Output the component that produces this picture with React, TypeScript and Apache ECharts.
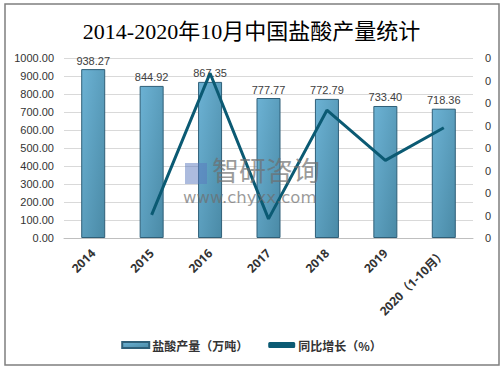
import React, { useEffect, useRef } from "react";
import * as echarts from "echarts";

const categories = ["2014", "2015", "2016", "2017", "2018", "2019", "2020（1-10月）"];
const production = [938.27, 844.92, 867.35, 777.77, 772.79, 733.4, 718.36];
const growth = [null, -0.0995, 0.0265, -0.103, -0.0064, -0.051, -0.022];
const leftTicks = { min: 0, max: 1000, interval: 100 };
const rightTicks = { min: -0.12, max: 0.04, interval: 0.02 };

export default function App() {
  const ref = useRef<HTMLDivElement>(null);
  useEffect(() => {
    const chart = echarts.init(ref.current!, null, { renderer: "svg" });
    const barGrad = new echarts.graphic.LinearGradient(0, 0, 1, 1, [
      { offset: 0, color: "#6cb2d4" },
      { offset: 1, color: "#4a8aa6" },
    ]);
    chart.setOption({
      animation: false,
      backgroundColor: "#fff",
      title: {
        text: "2014-2020年10月中国盐酸产量统计",
        left: "center",
        top: 15,
        textStyle: {
          fontFamily: "'Liberation Serif', 'Noto Sans CJK SC', serif",
          fontSize: 22,
          fontWeight: "normal",
          color: "#000",
        },
      },
      graphic: [
        {
          type: "rect",
          shape: { x: 5, y: 4, width: 494, height: 361 },
          style: { fill: "none", stroke: "#7f7f7f", lineWidth: 1.5 },
          silent: true,
          z: 100,
        },
        {
          type: "text",
          left: 212,
          top: 156,
          style: {
            text: "智研咨询",
            fontFamily: "'Noto Sans CJK SC'",
            fontSize: 27,
            fill: "rgba(110,110,110,0.7)",
          },
          z: 50,
        },
        {
          type: "rect",
          shape: { x: 185, y: 163, width: 22, height: 21 },
          style: { fill: "rgba(90,120,190,0.5)" },
          z: 50,
        },
        {
          type: "text",
          left: 183,
          top: 189,
          style: {
            text: "www.chyxx.com",
            fontFamily: "'DejaVu Sans'",
            fontSize: 16.5,
            fill: "rgba(110,110,110,0.7)",
          },
          z: 50,
        },
      ],
      legend: {
        bottom: 14,
        left: "center",
        itemGap: 20,
        itemWidth: 27,
        itemHeight: 6,
        textStyle: { fontSize: 12, color: "#333", fontWeight: "bold", fontFamily: "'Noto Sans CJK SC'", padding: [0, 0, 0, -2] },
        data: [
          { name: "盐酸产量（万吨）", icon: "rect" },
          { name: "同比增长（%）", icon: "roundRect", itemStyle: { color: "#0b5a73" } },
        ],
      },
      grid: { left: 64, right: 30, top: 58, bottom: 132 },
      xAxis: {
        type: "category",
        data: categories,
        axisLine: { lineStyle: { color: "#bfbfbf" } },
        axisTick: { show: false },
        axisLabel: {
          rotate: 45,
          interval: 0,
          color: "#333",
          fontWeight: "bold",
          fontSize: 12,
          fontFamily: "'Open Sans', 'Noto Sans CJK SC', sans-serif",
          margin: 13,
        },
      },
      yAxis: [
        {
          type: "value",
          ...leftTicks,
          axisLine: { show: false },
          axisTick: { show: false },
          splitLine: { lineStyle: { color: "#d9d9d9" } },
          axisLabel: {
            formatter: (v: number) => v.toFixed(2),
            color: "#333",
            fontSize: 11,
            fontFamily: "'Liberation Sans', Arial",
            margin: 10,
          },
        },
        {
          type: "value",
          ...rightTicks,
          axisLine: { show: false },
          axisTick: { show: false },
          splitLine: { show: false },
          axisLabel: {
            formatter: (v: number) => String(Math.round(v) + 0),
            color: "#333",
            fontSize: 11,
            fontFamily: "'Liberation Sans', Arial",
            margin: 12,
          },
        },
      ],
      series: [
        {
          name: "盐酸产量（万吨）",
          type: "bar",
          data: production,
          barWidth: 24,
          itemStyle: { color: barGrad, borderColor: "#2f5f78", borderWidth: 1 },
          label: {
            show: true,
            position: "top",
            formatter: (p: any) => p.value.toFixed(2),
            color: "#404040",
            fontSize: 11,
            fontFamily: "'Liberation Sans', Arial",
            distance: 3,
          },
        },
        {
          name: "同比增长（%）",
          type: "line",
          yAxisIndex: 1,
          data: growth,
          symbol: "none",
          connectNulls: false,
          lineStyle: { color: "#0b5a73", width: 3 },
          itemStyle: { color: "#0b5a73" },
          z: 3,
        },
      ],
    });
    return () => chart.dispose();
  }, []);
  return <div ref={ref} style={{ width: 503, height: 370, position: "absolute", left: 0, top: 0 }} />;
}
